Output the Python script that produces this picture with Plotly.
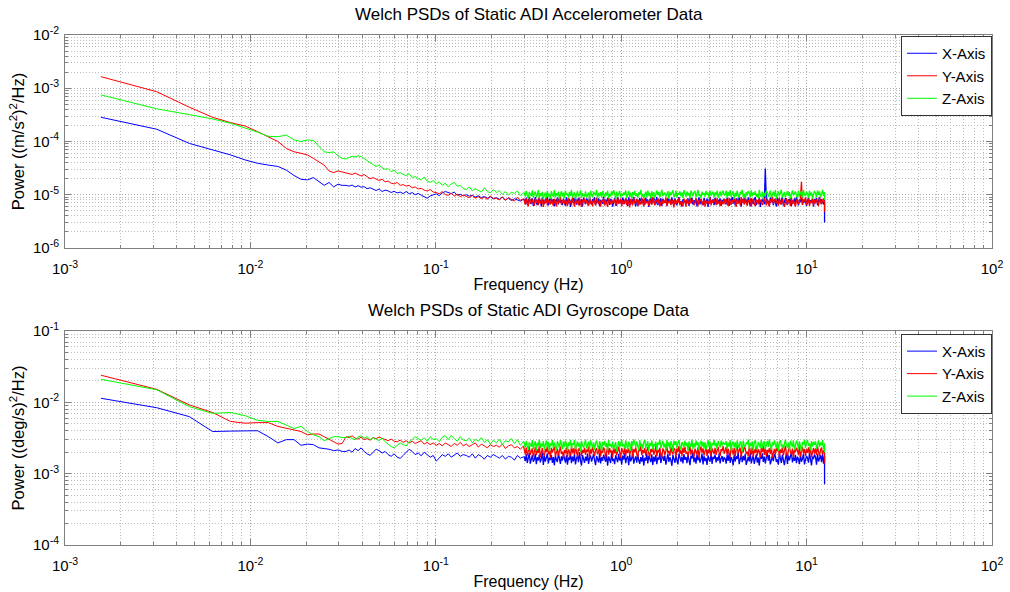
import numpy as np
import plotly.graph_objects as go

# ---------------- data ----------------
DF = 25.0 / 16000.0            # Welch bin spacing (Hz)
low_bins = list(range(1, 21))   # first 20 FFT bins shown individually
N_MID, N_HIGH = 60, 300
freq = np.concatenate([
    DF * np.array(low_bins),
    np.geomspace(21 * DF, 190 * DF, N_MID),
    np.geomspace(192 * DF, 7999 * DF, N_HIGH),
    [8000 * DF],
])

# Accelerometer PSDs, units of 1e-7 (m/s^2)^2/Hz
acc_x_low = [2850, 1700, 920, 690, 560, 450, 390, 360, 340, 290, 230, 195, 190, 210, 175, 150, 170, 140, 158, 150]
acc_y_low = [16500, 8600, 4400, 2850, 2260, 1950, 1530, 1230, 1000, 740, 640, 600, 560, 480, 420, 360, 280, 260, 280, 270]
acc_z_low = [7500, 4100, 3200, 2650, 2200, 1800, 1500, 1250, 1230, 1320, 1070, 1000, 1070, 1050, 800, 640, 620, 640, 540, 480]

acc_x_mid = [150, 145, 152, 140, 148, 138, 142, 130, 135, 125,
             120, 128, 115, 122, 118, 110, 116, 108, 112, 105,
             115, 104, 110, 100, 106, 98, 92, 86, 95, 100,
             104, 96, 108, 115, 110, 105, 112, 98, 102, 95,
             100, 94, 98, 90, 96, 88, 93, 86, 91, 84,
             88, 82, 90, 80, 86, 78, 84, 80, 76, 82]
acc_y_mid = [260, 250, 240, 255, 235, 225, 240, 215, 200, 210,
             200, 185, 195, 175, 180, 165, 160, 170, 150, 155,
             145, 150, 135, 140, 128, 132, 122, 118, 125, 112,
             110, 104, 115, 100, 98, 106, 95, 102, 92, 99,
             93, 88, 97, 86, 92, 84, 90, 82, 95, 85,
             86, 80, 91, 78, 88, 82, 76, 90, 79, 84]
acc_z_mid = [470, 500, 530, 510, 540, 520, 470, 430, 400, 370,
             340, 360, 320, 300, 310, 270, 290, 250, 260, 240,
             230, 250, 210, 220, 200, 190, 215, 180, 170, 185,
             160, 175, 150, 165, 140, 160, 170, 145, 150, 130,
             125, 140, 118, 130, 120, 112, 135, 115, 108, 125,
             110, 120, 102, 115, 98, 112, 105, 118, 96, 108]

acc_x_high = [82, 70, 88, 65, 79, 91, 68, 74, 86, 62,
              77, 90, 71, 64, 85, 73, 80, 60, 89, 76,
              67, 84, 72, 92, 63, 78, 87, 69, 75, 83,
              61, 80, 74, 88, 66, 90, 71, 79, 64, 85,
              73, 62, 89, 77, 68, 84, 59, 81, 72, 87,
              70, 91, 65, 78, 86, 63, 76, 82, 60, 88,
              74, 67, 85, 79, 62, 90, 71, 66, 83, 76,
              89, 64, 77, 72, 86, 61, 80, 75, 68, 92,
              63, 81, 70, 87, 74, 65, 84, 78, 60, 79,
              86, 71, 62, 90, 76, 69, 82, 64, 88, 73,
              67, 85, 78, 61, 89, 72, 66, 80, 75, 91,
              77, 60, 84, 70, 63, 87, 79, 68, 83, 74,
              65, 88, 73, 81, 59, 76, 90, 69, 72, 85,
              80, 66, 91, 64, 78, 71, 86, 62, 84, 75,
              70, 83, 61, 87, 74, 79, 65, 89, 68, 77,
              85, 72, 63, 80, 90, 67, 76, 60, 82, 73,
              72, 78, 69, 86, 62, 81, 74, 88, 65, 79,
              71, 84, 60, 77, 89, 66, 83, 72, 63, 87,
              76, 68, 85, 59, 80, 91, 70, 74, 82, 64,
              88, 73, 66, 81, 69, 86, 62, 78, 75, 84,
              79, 66, 87, 71, 62, 84, 75, 90, 68, 80,
              63, 86, 74, 69, 91, 77, 60, 83, 72, 88,
              70, 81, 65, 89, 76, 61, 85, 73, 67, 82,
              90, 64, 78, 71, 86, 59, 80, 74, 87, 66,
              310, 83, 69, 77, 62, 89, 72, 85, 64, 81,
              75, 60, 88, 70, 84, 67, 79, 91, 63, 76,
              86, 72, 65, 82, 74, 88, 61, 78, 69, 85,
              68, 90, 77, 63, 81, 73, 87, 66, 80, 71,
              84, 62, 76, 89, 67, 79, 70, 85, 60, 83,
              73, 87, 64, 78, 91, 69, 82, 75, 66, 80]
acc_y_high = [78, 65, 84, 70, 60, 89, 73, 67, 81, 75,
              62, 86, 71, 79, 64, 90, 68, 74, 83, 59,
              77, 69, 88, 63, 80, 72, 66, 85, 70, 61,
              84, 74, 60, 87, 68, 78, 92, 65, 71, 82,
              67, 80, 73, 61, 86, 70, 76, 63, 89, 72,
              60, 83, 69, 77, 64, 88, 71, 59, 80, 74,
              85, 66, 79, 72, 62, 90, 68, 75, 61, 84,
              70, 63, 87, 76, 67, 81, 60, 78, 73, 86,
              64, 79, 71, 59, 88, 74, 66, 83, 69, 77,
              81, 62, 75, 90, 68, 72, 85, 61, 78, 67,
              73, 87, 64, 80, 70, 58, 84, 76, 63, 89,
              68, 75, 82, 61, 79, 71, 66, 88, 74, 60,
              86, 69, 73, 77, 62, 83, 70, 65, 91, 72,
              63, 80, 76, 68, 85, 60, 74, 82, 67, 78,
              71, 89, 62, 75, 69, 84, 64, 79, 73, 58,
              82, 67, 78, 70, 87, 63, 76, 72, 61, 85,
              74, 60, 83, 71, 66, 89, 68, 77, 80, 64,
              69, 86, 72, 62, 78, 75, 84, 65, 73, 81,
              60, 77, 70, 75, 67, 88, 63, 79, 71, 83,
              75, 64, 86, 69, 74, 61, 80, 72, 66, 84,
              66, 83, 72, 61, 87, 76, 64, 80, 70, 89,
              74, 59, 85, 68, 78, 63, 90, 71, 82, 65,
              88, 70, 62, 79, 73, 86, 60, 77, 84, 69,
              61, 81, 75, 66, 89, 72, 80, 64, 71, 87,
              76, 63, 84, 70, 60, 82, 74, 91, 67, 78,
              85, 69, 77, 62, 88, 71, 65, 83, 73, 59,
              72, 86, 64, 80, 75, 61, 89, 68, 79, 70,
              60, 78, 83, 67, 73, 87, 176, 64, 81, 74,
              89, 65, 71, 84, 62, 77, 70, 86, 63, 80,
              68, 82, 75, 61, 90, 73, 66, 79, 85, 71]
acc_z_high = [108, 92, 118, 97, 85, 112, 101, 94, 121, 88,
              103, 115, 90, 99, 124, 86, 107, 95, 113, 82,
              98, 110, 87, 119, 93, 104, 84, 116, 100, 91,
              122, 89, 106, 96, 114, 83, 102, 117, 92, 109,
              86, 120, 99, 105, 88, 113, 95, 123, 90, 101,
              111, 84, 104, 118, 93, 98, 121, 87, 107, 96,
              94, 116, 89, 102, 110, 82, 119, 99, 91, 114,
              105, 97, 123, 85, 108, 95, 112, 88, 117, 100,
              90, 111, 96, 120, 86, 104, 93, 115, 98, 122,
              107, 83, 114, 92, 101, 118, 89, 106, 95, 110,
              99, 121, 87, 103, 116, 91, 109, 84, 113, 97,
              118, 94, 106, 88, 111, 100, 123, 92, 104, 86,
              102, 115, 90, 119, 96, 108, 85, 117, 93, 112,
              87, 105, 120, 98, 114, 89, 101, 124, 95, 107,
              110, 92, 103, 117, 84, 113, 97, 106, 121, 90,
              96, 119, 88, 108, 100, 116, 93, 111, 86, 122,
              104, 91, 115, 97, 109, 85, 120, 102, 94, 112,
              117, 89, 106, 123, 95, 101, 87, 114, 99, 108,
              92, 118, 100, 110, 86, 121, 96, 105, 113, 90,
              111, 98, 119, 88, 107, 115, 94, 103, 120, 97,
              101, 119, 87, 113, 95, 122, 90, 106, 116, 84,
              109, 93, 120, 98, 88, 114, 103, 124, 91, 105,
              85, 112, 97, 118, 107, 89, 121, 94, 110, 99,
              117, 90, 104, 86, 123, 100, 92, 115, 83, 108,
              96, 120, 111, 91, 102, 119, 87, 106, 114, 93,
              122, 85, 99, 116, 94, 109, 124, 89, 101, 113,
              88, 107, 118, 95, 112, 84, 103, 121, 97, 110,
              115, 98, 86, 120, 92, 106, 117, 90, 123, 100,
              94, 113, 104, 87, 119, 96, 111, 85, 108, 118,
              106, 89, 121, 99, 116, 92, 102, 124, 95, 112]
acc_end = [30, 48, 80]   # Nyquist bin (X, Y, Z)

# Gyroscope PSDs, units of 1e-5 (deg/s)^2/Hz
gyr_x_low = [1140, 840, 630, 390, 395, 400, 400, 330, 270, 300, 300, 250, 260, 255, 230, 225, 220, 210, 215, 205]
gyr_y_low = [2400, 1520, 920, 720, 540, 510, 520, 520, 460, 430, 410, 390, 350, 360, 360, 330, 310, 280, 260, 265]
gyr_z_low = [2100, 1500, 870, 700, 720, 650, 560, 540, 540, 480, 430, 460, 390, 350, 330, 290, 310, 330, 330, 320]

gyr_x_mid = [205, 215, 200, 225, 210, 230, 205, 190, 180, 200,
             220, 210, 195, 205, 185, 175, 190, 170, 164, 180,
             200, 220, 205, 185, 195, 178, 200, 185, 170, 180,
             150, 165, 185, 175, 190, 170, 180, 195, 175, 185,
             180, 170, 190, 165, 185, 175, 160, 180, 170, 185,
             175, 165, 180, 160, 175, 170, 155, 180, 165, 172]
gyr_y_mid = [330, 320, 340, 315, 305, 325, 300, 310, 295, 320,
             310, 325, 315, 300, 290, 305, 285, 280, 295, 275,
             290, 270, 285, 265, 280, 290, 260, 275, 255, 270,
             250, 265, 245, 270, 255, 240, 265, 250, 275, 245,
             260, 240, 255, 270, 235, 260, 245, 230, 255, 240,
             250, 235, 260, 225, 245, 255, 230, 240, 220, 245]
gyr_z_mid = [320, 335, 310, 300, 325, 340, 315, 330, 300, 320,
             305, 290, 315, 280, 260, 240, 230, 250, 270, 255,
             245, 280, 300, 330, 310, 295, 320, 285, 330, 300,
             310, 280, 325, 340, 300, 345, 310, 285, 330, 295,
             290, 315, 270, 305, 285, 320, 275, 300, 260, 295,
             270, 305, 255, 290, 280, 310, 265, 300, 250, 285]

gyr_x_high = [172, 150, 188, 141, 165, 195, 138, 160, 182, 147,
              158, 190, 136, 170, 153, 185, 144, 162, 198, 133,
              176, 148, 163, 192, 139, 168, 155, 184, 142, 171,
              131, 179, 157, 146, 194, 161, 137, 175, 152, 187,
              166, 143, 181, 134, 169, 156, 196, 140, 174, 149,
              189, 135, 164, 178, 145, 200, 154, 130, 183, 159,
              142, 173, 151, 191, 137, 167, 180, 148, 161, 186,
              155, 132, 177, 163, 144, 193, 139, 170, 152, 184,
              168, 147, 186, 129, 174, 158, 141, 197, 150, 162,
              136, 181, 160, 145, 189, 153, 172, 134, 179, 157,
              193, 140, 166, 176, 131, 185, 149, 163, 199, 138,
              159, 175, 143, 188, 154, 137, 171, 147, 182, 130,
              167, 152, 194, 139, 178, 161, 145, 187, 133, 173,
              148, 184, 136, 169, 157, 196, 141, 164, 176, 151,
              180, 134, 162, 190, 146, 170, 155, 129, 183, 160,
              142, 177, 153, 135, 192, 165, 148, 174, 139, 188,
              156, 171, 140, 183, 150, 132, 179, 163, 197, 145,
              169, 138, 186, 154, 175, 143, 160, 191, 135, 178,
              150, 166, 133, 181, 158, 147, 195, 137, 172, 161,
              185, 144, 170, 152, 190, 139, 164, 177, 146, 168,
              163, 138, 182, 151, 194, 142, 170, 157, 131, 186,
              148, 175, 160, 199, 136, 167, 184, 145, 178, 153,
              190, 133, 158, 172, 149, 196, 140, 165, 181, 137,
              155, 187, 143, 168, 130, 179, 161, 193, 146, 174,
              139, 171, 197, 152, 183, 135, 164, 176, 150, 189,
              177, 146, 159, 134, 192, 166, 141, 185, 157, 132,
              162, 195, 137, 180, 154, 170, 198, 144, 169, 151,
              184, 140, 173, 159, 136, 188, 147, 162, 191, 135,
              150, 178, 165, 143, 197, 156, 131, 174, 160, 186,
              171, 134, 190, 148, 167, 181, 145, 193, 138, 176]
gyr_y_high = [215, 188, 232, 179, 205, 241, 184, 199, 226, 173,
              208, 236, 182, 219, 195, 245, 170, 211, 228, 190,
              177, 222, 201, 243, 186, 213, 168, 230, 197, 218,
              238, 175, 206, 224, 181, 210, 240, 189, 203, 171,
              216, 193, 234, 167, 221, 202, 180, 239, 192, 227,
              185, 244, 198, 172, 225, 209, 235, 176, 214, 196,
              231, 183, 217, 204, 242, 169, 220, 191, 237, 207,
              178, 212, 229, 187, 200, 246, 174, 223, 194, 233,
              219, 166, 207, 240, 185, 228, 197, 212, 171, 236,
              192, 225, 180, 214, 238, 199, 166, 230, 205, 186,
              243, 176, 218, 195, 227, 183, 210, 241, 173, 221,
              200, 234, 188, 169, 223, 207, 245, 181, 215, 194,
              228, 179, 212, 236, 190, 170, 222, 199, 239, 184,
              206, 244, 174, 216, 198, 231, 187, 167, 226, 211,
              182, 220, 239, 193, 209, 177, 235, 203, 186, 229,
              217, 170, 226, 201, 244, 189, 213, 178, 232, 196,
              237, 191, 204, 175, 222, 242, 183, 218, 199, 172,
              224, 208, 186, 233, 168, 214, 240, 195, 227, 180,
              202, 235, 178, 219, 193, 246, 173, 225, 206, 188,
              230, 184, 211, 238, 197, 176, 221, 207, 243, 190,
              211, 237, 182, 224, 197, 170, 240, 205, 187, 229,
              176, 216, 244, 193, 208, 232, 168, 221, 199, 238,
              226, 189, 203, 175, 241, 212, 184, 235, 172, 218,
              195, 243, 179, 220, 206, 169, 230, 201, 246, 183,
              233, 174, 215, 198, 227, 188, 242, 166, 210, 223,
              185, 228, 207, 239, 171, 219, 196, 234, 180, 204,
              245, 192, 177, 213, 236, 202, 186, 225, 167, 217,
              200, 231, 214, 181, 244, 173, 209, 238, 194, 222,
              178, 220, 196, 234, 188, 241, 170, 206, 229, 191,
              227, 183, 239, 204, 175, 216, 232, 187, 211, 199]
gyr_z_high = [268, 231, 289, 245, 215, 276, 252, 238, 296, 222,
              259, 283, 210, 271, 247, 300, 228, 263, 240, 286,
              218, 255, 292, 234, 279, 205, 266, 248, 298, 226,
              273, 243, 212, 287, 257, 230, 295, 250, 221, 281,
              236, 290, 262, 208, 274, 245, 299, 225, 267, 253,
              297, 219, 256, 284, 239, 270, 203, 288, 249, 232,
              261, 301, 227, 246, 280, 214, 293, 258, 235, 275,
              216, 265, 291, 242, 223, 285, 254, 207, 278, 250,
              289, 237, 269, 212, 296, 244, 260, 229, 282, 220,
              248, 277, 204, 263, 286, 233, 271, 298, 241, 257,
              226, 294, 252, 218, 279, 266, 209, 287, 244, 302,
              270, 235, 283, 251, 213, 295, 240, 262, 224, 276,
              299, 230, 258, 285, 206, 268, 247, 292, 219, 261,
              242, 281, 214, 273, 255, 300, 228, 250, 288, 234,
              264, 211, 297, 239, 276, 222, 284, 259, 205, 290,
              253, 286, 227, 266, 298, 245, 216, 278, 260, 235,
              291, 243, 272, 208, 283, 256, 237, 301, 220, 269,
              231, 294, 249, 275, 214, 262, 289, 240, 280, 225,
              277, 217, 258, 295, 236, 284, 210, 267, 251, 299,
              244, 270, 221, 288, 257, 232, 292, 248, 274, 263,
              256, 287, 223, 271, 240, 296, 212, 265, 282, 233,
              278, 218, 294, 250, 229, 285, 261, 204, 290, 246,
              237, 275, 259, 300, 222, 268, 243, 283, 210, 272,
              293, 245, 214, 279, 254, 231, 297, 226, 263, 286,
              220, 266, 288, 238, 302, 251, 216, 276, 248, 292,
              262, 227, 284, 209, 270, 295, 241, 257, 225, 281,
              299, 249, 232, 274, 215, 289, 260, 236, 294, 218,
              244, 291, 267, 221, 283, 252, 206, 277, 258, 301,
              230, 272, 297, 246, 264, 213, 286, 239, 280, 253,
              285, 224, 258, 293, 235, 274, 250, 298, 219, 267]
gyr_end = [71, 140, 200]

series_names = ["X-Axis", "Y-Axis", "Z-Axis"]
series_colors = ["#0000ff", "#ff0000", "#00ff00"]
x_tick_vals = [1e-3, 1e-2, 1e-1, 1e0, 1e1, 1e2]
x_tick_text = ["10<sup>-3</sup>", "10<sup>-2</sup>", "10<sup>-1</sup>", "10<sup>0</sup>", "10<sup>1</sup>", "10<sup>2</sup>"]
acc_tick_vals = [1e-6, 1e-5, 1e-4, 1e-3, 1e-2]
acc_tick_text = ["10<sup>-6</sup>", "10<sup>-5</sup>", "10<sup>-4</sup>", "10<sup>-3</sup>", "10<sup>-2</sup>"]
gyr_tick_vals = [1e-4, 1e-3, 1e-2, 1e-1]
gyr_tick_text = ["10<sup>-4</sup>", "10<sup>-3</sup>", "10<sup>-2</sup>", "10<sup>-1</sup>"]

# --------------- figure ---------------
acc = [acc_x_low + acc_x_mid + acc_x_high + [acc_end[0]],
       acc_y_low + acc_y_mid + acc_y_high + [acc_end[1]],
       acc_z_low + acc_z_mid + acc_z_high + [acc_end[2]]]
gyr = [gyr_x_low + gyr_x_mid + gyr_x_high + [gyr_end[0]],
       gyr_y_low + gyr_y_mid + gyr_y_high + [gyr_end[1]],
       gyr_z_low + gyr_z_mid + gyr_z_high + [gyr_end[2]]]
split = len(low_bins) + N_MID          # start of the dense noise-floor segment

fig = go.Figure()
for data, scale, xa, ya, lg in ((acc, 1e-7, "x", "y", "legend"), (gyr, 1e-5, "x2", "y2", "legend2")):
    for name, col, vals in zip(series_names, series_colors, data):
        y = np.array(vals) * scale
        fig.add_trace(go.Scatter(x=freq[:split], y=y[:split], mode="lines", name=name,
                                 line=dict(color=col, width=1), xaxis=xa, yaxis=ya, legend=lg))
    for name, col, vals in zip(series_names, series_colors, data):
        y = np.array(vals) * scale
        fig.add_trace(go.Scatter(x=freq[split - 1:], y=y[split - 1:], mode="lines", name=name,
                                 line=dict(color=col, width=1.3), xaxis=xa, yaxis=ya,
                                 showlegend=False))

FONT = "Liberation Sans, Arial, sans-serif"
minor_vals = [m * 10.0 ** e for e in range(-7, 3) for m in range(2, 10)]
AX = dict(type="log", showline=True, linecolor="#808080", linewidth=1, mirror="allticks",
          ticks="inside", ticklen=6, tickcolor="#808080", showgrid=True,
          gridcolor="#a8a8a8", griddash="1px,2px", gridwidth=1, zeroline=False,
          automargin=False,
          tickfont=dict(family=FONT, size=15, color="#000"),
          minor=dict(tickvals=minor_vals, ticks="inside", ticklen=3, tickcolor="#808080",
                     showgrid=True, gridcolor="#bcbcbc", griddash="1px,2px", gridwidth=1))

TOP_DOM = [0.5824, 1.0]
BOT_DOM = [0.0, 0.4196]
fig.update_layout(
    width=1010, height=592, margin=dict(l=65, r=18, t=35, b=47),
    paper_bgcolor="white", plot_bgcolor="white",
    font=dict(family=FONT, size=15, color="#000"),
    xaxis=dict(AX, range=[-3, 2], tickvals=x_tick_vals, ticktext=x_tick_text, anchor="y",
               ticklabelstandoff=7,
               title=dict(text="Frequency (Hz)", standoff=2, font=dict(size=16))),
    yaxis=dict(AX, range=[-6, -2], tickvals=acc_tick_vals, ticktext=acc_tick_text, domain=TOP_DOM, anchor="x",
               ticklabelstandoff=2,
               title=dict(text="Power ((m/s<sup>2</sup>)<sup>2</sup>/Hz)", standoff=4, font=dict(size=16.5))),
    xaxis2=dict(AX, range=[-3, 2], tickvals=x_tick_vals, ticktext=x_tick_text, anchor="y2",
                ticklabelstandoff=7,
                title=dict(text="Frequency (Hz)", standoff=2, font=dict(size=16))),
    yaxis2=dict(AX, range=[-4, -1], tickvals=gyr_tick_vals, ticktext=gyr_tick_text, domain=BOT_DOM, anchor="x2",
                ticklabelstandoff=2,
                title=dict(text="Power ((deg/s)<sup>2</sup>/Hz)", standoff=4, font=dict(size=16.5))),
    legend=dict(x=1.0, y=0.998, xanchor="right", yanchor="top", bgcolor="white",
                bordercolor="#333", borderwidth=1, font=dict(size=15), itemwidth=30,
                tracegroupgap=0),
    legend2=dict(x=1.0, y=0.4140, xanchor="right", yanchor="top", bgcolor="white",
                 bordercolor="#333", borderwidth=1, font=dict(size=15), itemwidth=30,
                 tracegroupgap=0),
    annotations=[
        dict(text="Welch PSDs of Static ADI Accelerometer Data", x=0.5, y=1.0, xref="paper", yref="paper",
             xanchor="center", yanchor="bottom", yshift=9, showarrow=False, font=dict(size=17)),
        dict(text="Welch PSDs of Static ADI Gyroscope Data", x=0.5, y=BOT_DOM[1], xref="paper", yref="paper",
             xanchor="center", yanchor="bottom", yshift=9, showarrow=False, font=dict(size=17)),
    ],
)

fig.write_html("out.html")
